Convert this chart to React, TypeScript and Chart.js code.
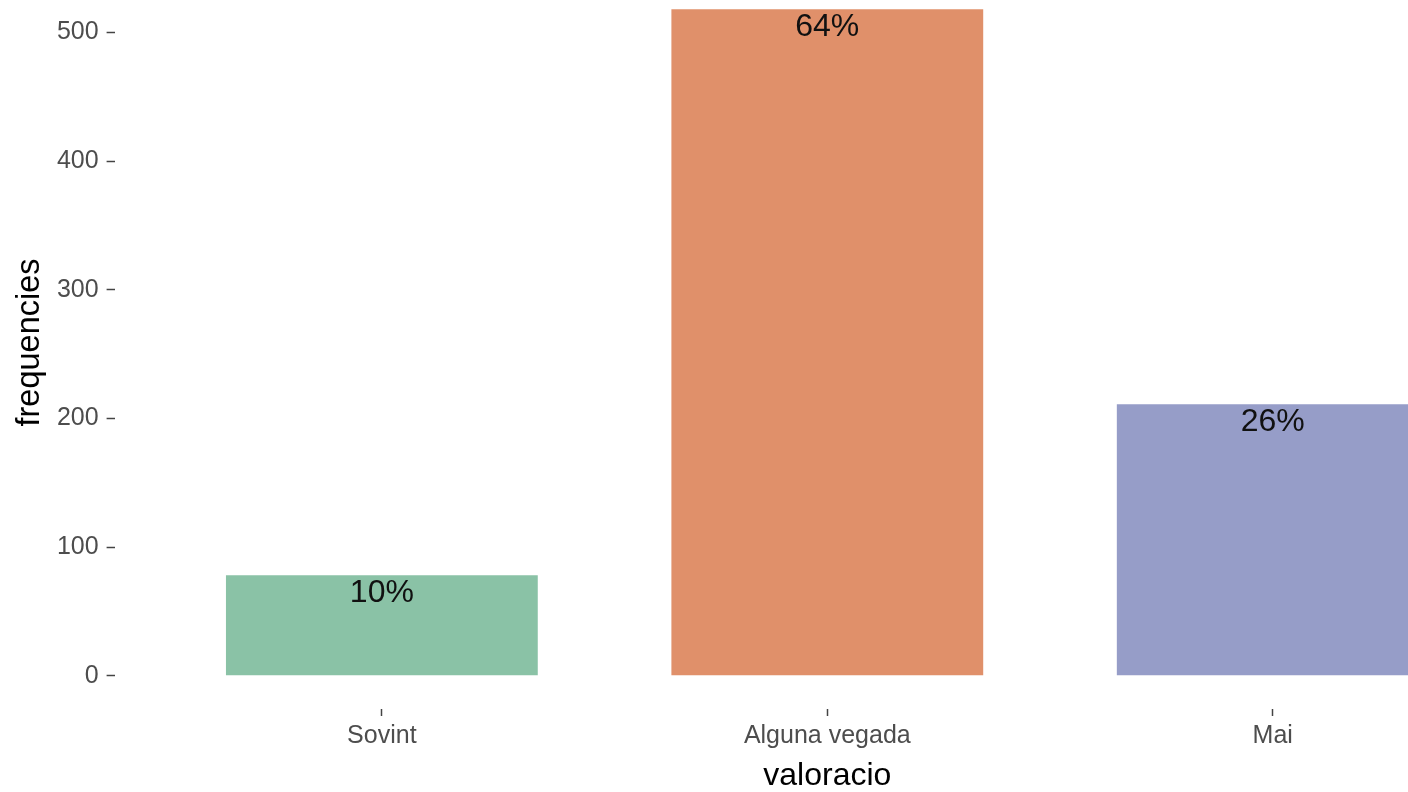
import React, { useEffect, useRef } from "react";
import { Chart, registerables } from "chart.js";

Chart.register(...registerables);

const categories = ["Sovint", "Alguna vegada", "Mai"];
const frequencies = [78, 518, 211];
const barColors = ["#8AC2A6", "#E0906A", "#969DC8"];
const yTicks = [0, 100, 200, 300, 400, 500];
const xTitle = "valoracio";
const yTitle = "frequencies";

const FONT = "'Liberation Sans', Arial, Helvetica, sans-serif";

// The reference is a cropped ggplot: the full plot extends beyond the top and right edges.
const CANVAS_W = 1540;
const CANVAS_H = 816;
const SHIFT_Y = 24;

const percentLabels = {
  id: "percentLabels",
  afterDatasetsDraw(chart: any) {
    const ctx = chart.ctx;
    const total = frequencies.reduce((a, b) => a + b, 0);
    const meta = chart.getDatasetMeta(0);
    ctx.save();
    ctx.font = `32px ${FONT}`;
    ctx.fillStyle = "#111111";
    ctx.textAlign = "center";
    ctx.textBaseline = "alphabetic";
    meta.data.forEach((el: any, i: number) => {
      const pct = Math.round((frequencies[i] / total) * 100) + "%";
      ctx.fillText(pct, el.x, el.y + 26.5);
    });
    ctx.restore();
  },
};

export default function App() {
  const ref = useRef<HTMLCanvasElement | null>(null);

  useEffect(() => {
    if (!ref.current) return;
    const chart = new Chart(ref.current, {
      type: "bar",
      data: {
        datasets: [
          {
            data: categories.map((c, i) => ({ x: i, y: frequencies[i] })) as any,
            backgroundColor: barColors,
            borderWidth: 0,
            barPercentage: 0.7,
            categoryPercentage: 1.0,
          },
        ],
      },
      options: {
        responsive: false,
        animation: false,
        devicePixelRatio: 1,
        layout: { padding: 0 },
        plugins: {
          legend: { display: false },
          tooltip: { enabled: false },
        },
        scales: {
          x: {
            type: "linear",
            min: -0.6,
            max: 2.6,
            offset: false,
            afterBuildTicks: (scale: any) => {
              scale.ticks = categories.map((c, i) => ({ value: i }));
            },
            afterFit: (scale: any) => {
              scale.height = 83;
              scale.paddingLeft = 0;
              scale.paddingRight = 0;
            },
            ticks: {
              callback: (v: any) => categories[Math.round(Number(v))] ?? "",
              font: { family: FONT, size: 25 },
              color: "#4D4D4D",
              padding: 5,
              maxRotation: 0,
              autoSkip: false,
            },
            grid: {
              display: true,
              offset: false,
              drawOnChartArea: false,
              drawTicks: true,
              tickLength: 7,
              tickWidth: 1.5,
              tickColor: "#444444",
            },
            border: { display: false },
            title: {
              display: true,
              text: xTitle,
              font: { family: FONT, size: 32, lineHeight: 1 },
              color: "#000000",
              padding: { top: 0, bottom: 0 },
            },
          },
          y: {
            type: "linear",
            min: -25.9,
            max: 543.9,
            afterBuildTicks: (scale: any) => {
              scale.ticks = yTicks.map((v) => ({ value: v }));
            },
            afterFit: (scale: any) => {
              scale.width = 114.6;
              scale.paddingTop = 0;
              scale.paddingBottom = 0;
            },
            ticks: {
              font: { family: FONT, size: 25 },
              color: "#4D4D4D",
              padding: 8,
            },
            grid: {
              display: true,
              drawOnChartArea: false,
              drawTicks: true,
              tickLength: 8,
              tickWidth: 1.5,
              tickColor: "#444444",
            },
            border: { display: false },
            title: {
              display: true,
              text: yTitle,
              font: { family: FONT, size: 32.5, lineHeight: 1 },
              color: "#000000",
              padding: { top: 13.5, bottom: 0 },
            },
          },
        },
      } as any,
      plugins: [percentLabels],
    });
    return () => chart.destroy();
  }, []);

  return (
    <div
      style={{
        position: "fixed",
        left: 0,
        top: 0,
        width: 1408,
        height: 792,
        background: "#ffffff",
        overflow: "hidden",
      }}
    >
      <canvas
        ref={ref}
        width={CANVAS_W}
        height={CANVAS_H}
        style={{
          position: "absolute",
          left: 0,
          top: -SHIFT_Y,
          display: "block",
          width: CANVAS_W,
          height: CANVAS_H,
        }}
      />
    </div>
  );
}
